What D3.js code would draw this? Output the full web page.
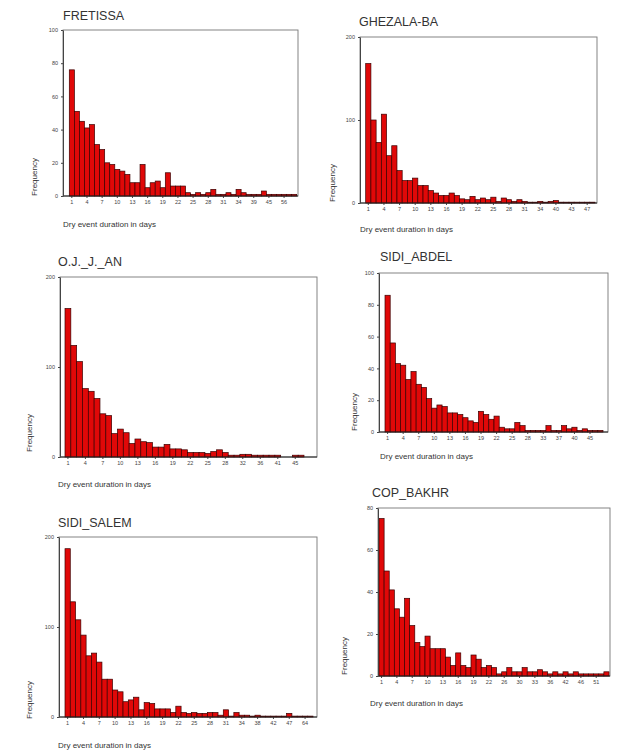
<!DOCTYPE html>
<html>
<head>
<meta charset="utf-8">
<script src="https://cdnjs.cloudflare.com/ajax/libs/d3/7.8.5/d3.min.js"></script>
<style>
    body { margin: 0; background: #fff; }
    svg { display: block; font-family: "Liberation Sans", Arial, sans-serif; }
</style>
</head>
<body>
<div id="chart"></div>
<script>
// dry event durations (days) and their frequency, one pair per station
const fretissaDays = [1,2,3,4,5,6,7,8,9,10,11,12,13,14,15,16,17,18,19,20,21,22,23,24,25,26,27,28,29,30,31,32,33,34,35,37,39,41,43,45,48,52,56,60,66];
const fretissaFreq = [76,51,45,41,43,31,28,20,19,16,15,13,8,8,19,5,8,9,5,14,6,6,6,2,1,2,1,2,4,1,1,2,1,4,2,1,1,1,3,1,1,1,1,1,1];

const ghezalaDays = [1,2,3,4,5,6,7,8,9,10,11,12,13,14,15,16,17,18,19,20,21,22,23,24,25,26,27,28,29,30,31,32,33,34,36,38,40,41,42,43,44,45,47,50];
const ghezalaFreq = [168,100,73,107,57,69,39,27,27,30,21,21,15,12,9,9,12,9,5,4,8,4,6,4,7,2,6,4,2,4,2,1,1,2,1,2,3,1,1,1,1,1,1,1];

const ojDays = [1,2,3,4,5,6,7,8,9,10,11,12,13,14,15,16,17,18,19,20,21,22,23,24,25,26,27,28,29,30,32,33,34,36,37,39,41,42,43,45,47];
const ojFreq = [165,124,106,76,73,65,48,46,26,31,27,15,20,17,16,11,11,14,9,9,8,5,5,5,4,6,8,5,2,2,3,3,2,2,2,2,2,0,0,2,2];

const abdelDays = [1,2,3,4,5,6,7,8,9,10,11,12,13,14,15,16,17,18,19,20,21,22,23,24,25,26,27,28,30,31,33,34,35,37,38,39,40,42,43,45,46,48];
const abdelFreq = [86,56,43,42,33,38,30,28,21,15,17,16,12,12,11,9,7,6,13,11,8,10,3,2,2,6,4,1,1,1,1,4,1,1,4,2,3,1,2,1,1,1];

const salemDays = [1,2,3,4,5,6,7,8,9,10,11,12,13,14,15,16,17,18,19,20,21,22,23,24,25,26,27,28,29,30,31,32,33,34,35,36,38,39,40,42,44,45,47,50,55,64,70];
const salemFreq = [187,128,108,91,68,71,61,42,42,30,28,17,19,22,8,16,15,9,9,9,5,12,5,4,5,4,4,5,5,2,8,1,5,2,2,1,2,1,1,1,1,1,4,1,1,1,1];

const copDays = [1,2,3,4,5,6,7,8,9,10,11,12,13,14,15,16,17,18,19,20,21,22,23,25,26,27,28,30,31,32,33,34,35,36,38,40,42,43,44,46,48,49,51,53,56];
const copFreq = [75,50,41,32,28,37,24,16,14,19,13,13,13,9,5,11,5,4,10,8,4,5,4,1,2,4,2,2,4,2,2,3,2,1,2,1,2,1,2,1,1,1,1,1,2];

const freqTicks100 = [0,20,40,60,80,100];
const freqTicks200 = [0,100,200];
const freqTicks80 = [0,20,40,60,80];

class HistogramPanel {
    constructor(svg, title, days, freq, ticks, layout) {
        this.svg = svg;
        this.title = title;
        this.days = days;
        this.freq = freq;
        this.ticks = ticks;
        this.layout = layout;
        this.initVis();
    }

    initVis() {
        let vis = this;
        let L = vis.layout;

        vis.g = vis.svg.append("g");

        vis.x = d3.scaleBand()
            .domain(vis.days)
            .range([L.bx0, L.bx1])
            .padding(0);

        vis.y = d3.scaleLinear()
            .domain([0, d3.max(vis.ticks)])
            .range([L.y1, L.y0]);

        // plot frame
        vis.g.append("rect")
            .attr("x", L.x0)
            .attr("y", L.y0)
            .attr("width", L.x1 - L.x0)
            .attr("height", L.y1 - L.y0)
            .attr("fill", "none")
            .attr("stroke", "#777")
            .attr("stroke-width", 0.9);

        let data = vis.days.map((d, i) => ({ day: d, n: vis.freq[i] }))
            .filter(d => d.n > 0);

        vis.g.selectAll(".bar")
            .data(data)
            .enter().append("rect")
            .attr("class", "bar")
            .attr("x", d => vis.x(d.day))
            .attr("width", vis.x.bandwidth())
            .attr("y", d => vis.y(d.n))
            .attr("height", d => L.y1 - vis.y(d.n))
            .attr("fill", "#e00808")
            .attr("stroke", "#3a0000")
            .attr("stroke-width", 0.7);

        // axes
        let xAxis = vis.g.append("g")
            .attr("transform", `translate(0,${L.y1})`)
            .call(d3.axisBottom(vis.x)
                .tickValues(vis.days.filter((d, i) => i % 3 === 0))
                .tickSize(2)
                .tickSizeOuter(0)
                .tickPadding(2));
        xAxis.select(".domain").remove();
        xAxis.selectAll("text")
            .style("font-size", "5.5px")
            .style("fill", "#444");
        xAxis.selectAll("line").attr("stroke", "#444");

        vis.g.append("line")
            .attr("x1", L.x0).attr("x2", L.x1)
            .attr("y1", L.y1).attr("y2", L.y1)
            .attr("stroke", "#222")
            .attr("stroke-width", 1);

        let yAxis = vis.g.append("g")
            .attr("transform", `translate(${L.x0},0)`)
            .call(d3.axisLeft(vis.y)
                .tickValues(vis.ticks)
                .tickSize(2)
                .tickSizeOuter(0)
                .tickPadding(3));
        yAxis.select(".domain").attr("stroke", "#444");
        yAxis.selectAll("text")
            .style("font-size", "5.5px")
            .style("fill", "#444");
        yAxis.selectAll("line").attr("stroke", "#444");

        // labels
        vis.g.append("text")
            .attr("x", L.tx)
            .attr("y", L.ty)
            .style("font-size", "12.5px")
            .style("fill", "#333")
            .text(vis.title);

        vis.g.append("text")
            .attr("transform", `translate(${L.fx},${L.fy}) rotate(-90)`)
            .attr("text-anchor", "middle")
            .style("font-size", "8px")
            .style("fill", "#333")
            .text("Frequency");

        vis.g.append("text")
            .attr("x", L.lx)
            .attr("y", L.ly)
            .style("font-size", "8px")
            .style("fill", "#333")
            .text("Dry event duration in days");
    }
}

const svg = d3.select("#chart").append("svg")
    .attr("width", 618)
    .attr("height", 753);

new HistogramPanel(svg, "FRETISSA", fretissaDays, fretissaFreq, freqTicks100,
    { x0: 63, x1: 298, y0: 30, y1: 196, bx0: 69.3, bx1: 296.7, tx: 63, ty: 20, fx: 37, fy: 177, lx: 63, ly: 227 });
new HistogramPanel(svg, "GHEZALA-BA", ghezalaDays, ghezalaFreq, freqTicks200,
    { x0: 360, x1: 597, y0: 37, y1: 203, bx0: 365.7, bx1: 595, tx: 359, ty: 26, fx: 335, fy: 183, lx: 360, ly: 232 });
new HistogramPanel(svg, "O.J._J._AN", ojDays, ojFreq, freqTicks200,
    { x0: 60, x1: 317, y0: 277, y1: 457, bx0: 65, bx1: 304, tx: 58, ty: 266, fx: 32, fy: 433, lx: 58, ly: 487 });
new HistogramPanel(svg, "SIDI_ABDEL", abdelDays, abdelFreq, freqTicks100,
    { x0: 379, x1: 608, y0: 273, y1: 432, bx0: 385, bx1: 603, tx: 380, ty: 261, fx: 357, fy: 412, lx: 380, ly: 459 });
new HistogramPanel(svg, "SIDI_SALEM", salemDays, salemFreq, freqTicks200,
    { x0: 59, x1: 317, y0: 537, y1: 717, bx0: 65, bx1: 313, tx: 58, ty: 527, fx: 32, fy: 700, lx: 58, ly: 748 });
new HistogramPanel(svg, "COP_BAKHR", copDays, copFreq, freqTicks80,
    { x0: 378, x1: 610, y0: 508, y1: 676, bx0: 379, bx1: 609, tx: 372, ty: 497, fx: 347, fy: 656, lx: 370, ly: 706 });
</script>
</body>
</html>
